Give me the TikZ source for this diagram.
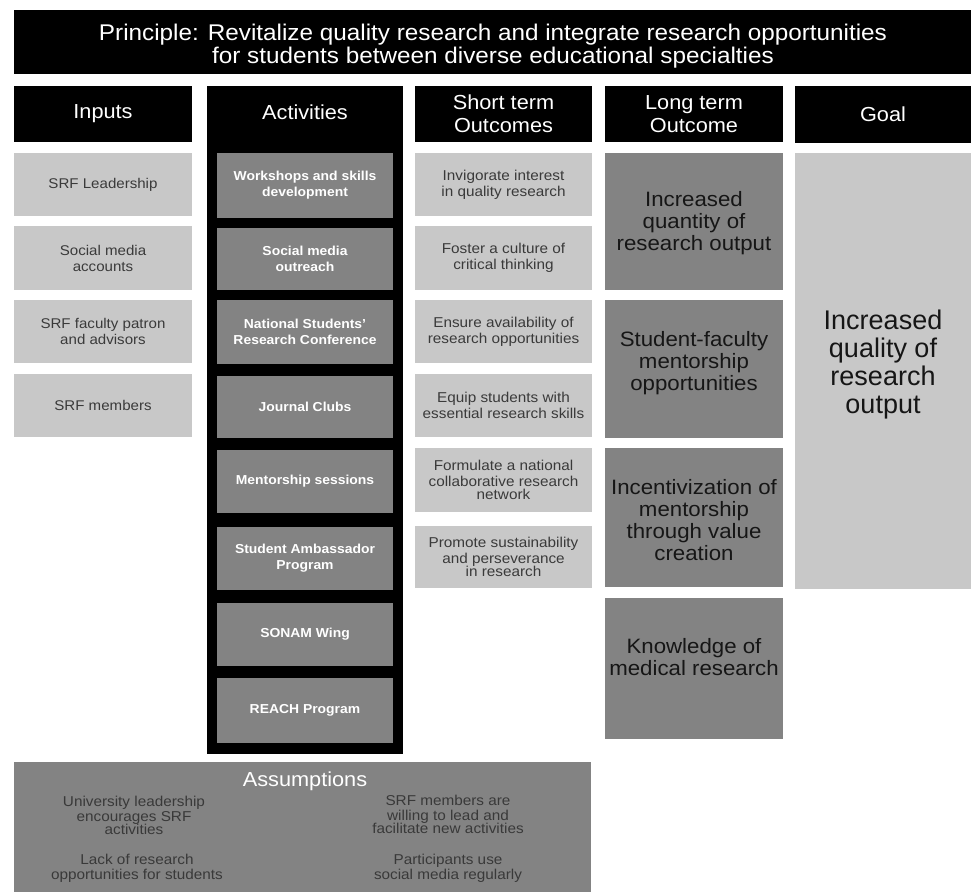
\documentclass[tikz,border=0pt]{standalone}
\usepackage{fontspec}
\setmainfont{Liberation Sans}[FakeStretch=1.07]
\newfontfamily\plainsans{Liberation Sans}
\definecolor{lightcell}{HTML}{C8C8C8}
\definecolor{darkcell}{HTML}{838383}
\definecolor{softink}{HTML}{3A3A3A}
\definecolor{deepink}{HTML}{161616}
% filled rectangle given by its corners (x1,y1)-(x2,y2)
\newcommand\cellbox[6]{%
  \node[cellshape,#2,minimum width={(#5-#3)*1pt},minimum height={(#6-#4)*1pt}]
    (#1) at ({(#3+#5)/2},{(#4+#6)/2}) {};}
\begin{document}
\begin{tikzpicture}[x=1pt,y=-1pt,
  cellshape/.style={rectangle,inner sep=0pt,outer sep=0pt,draw=none},
  blackbar/.style={fill=black},
  lightbox/.style={fill=lightcell},
  darkbox/.style={fill=darkcell},
  titletxt/.style={text=white,align=center,inner sep=0pt,font=\fontsize{22.7}{23}\selectfont},
  headtxt/.style={text=white,align=center,inner sep=0pt,font=\fontsize{20.3}{23}\selectfont},
  inputtxt/.style={text=softink,align=center,inner sep=0pt,font=\fontsize{14.1}{16}\selectfont},
  acttxt/.style={text=white,align=center,inner sep=0pt,font=\bfseries\fontsize{13}{16}\selectfont},
  shorttxt/.style={text=softink,align=center,inner sep=0pt,font=\fontsize{14.3}{16}\selectfont},
  longtxt/.style={text=deepink,align=center,inner sep=0pt,font=\fontsize{20.8}{22}\selectfont},
  goaltxt/.style={text=deepink,align=center,inner sep=0pt,font=\plainsans\fontsize{27}{28}\selectfont},
  asmtxt/.style={text=deepink!85,align=center,inner sep=0pt,font=\fontsize{14.3}{15}\selectfont},
]
\useasboundingbox[fill=white] (0,0) rectangle (971,892);

% principle banner
\cellbox{principle}{blackbar}{14}{10}{971}{74}
\node[titletxt] (principlet) at (493,46) {Principle: Revitalize quality research and integrate research opportunities\\for students between diverse educational specialties};

% column headers
\cellbox{hin}{blackbar}{14}{86}{192}{142}
\cellbox{hact}{blackbar}{207}{86}{403}{754}
\cellbox{hst}{blackbar}{415}{86}{592}{142}
\cellbox{hlt}{blackbar}{605}{86}{783}{142}
\cellbox{hgoal}{blackbar}{795}{86}{971}{143}
\node[headtxt] (hint) at (hin) {Inputs};
\node[headtxt] (hactt) at (305,112) {Activities};
\node[headtxt] (hstt) at (hst) {Short term\\Outcomes};
\node[headtxt] (hltt) at (hlt) {Long term\\Outcome};
\node[headtxt] (hgoalt) at (hgoal) {Goal};

% inputs
\cellbox{in1}{lightbox}{14}{153}{192}{216}
\cellbox{in2}{lightbox}{14}{226}{192}{290}
\cellbox{in3}{lightbox}{14}{300}{192}{363}
\cellbox{in4}{lightbox}{14}{374}{192}{437}
\node[inputtxt] (in1t) at (in1) {SRF Leadership};
\node[inputtxt] (in2t) at (in2) {Social media\\accounts};
\node[inputtxt] (in3t) at (in3) {SRF faculty patron\\and advisors};
\node[inputtxt] (in4t) at (in4) {SRF members};

% activities
\cellbox{ac1}{darkbox}{217}{153}{393}{218}
\cellbox{ac2}{darkbox}{217}{228}{393}{290}
\cellbox{ac3}{darkbox}{217}{300}{393}{364}
\cellbox{ac4}{darkbox}{217}{376}{393}{438}
\cellbox{ac5}{darkbox}{217}{450}{393}{513}
\cellbox{ac6}{darkbox}{217}{527}{393}{590}
\cellbox{ac7}{darkbox}{217}{603}{393}{666}
\cellbox{ac8}{darkbox}{217}{678}{393}{743}
\node[acttxt] (ac1t) at (ac1) {Workshops and skills\\development};
\node[acttxt] (ac2t) at (ac2) {Social media\\outreach};
\node[acttxt] (ac3t) at (ac3) {National Students'\\Research Conference};
\node[acttxt] (ac4t) at (ac4) {Journal Clubs};
\node[acttxt] (ac5t) at (ac5) {Mentorship sessions};
\node[acttxt] (ac6t) at (ac6) {Student Ambassador\\Program};
\node[acttxt] (ac7t) at (ac7) {SONAM Wing};
\node[acttxt] (ac8t) at (ac8) {REACH Program};

% short term outcomes
\cellbox{st1}{lightbox}{415}{153}{592}{216}
\cellbox{st2}{lightbox}{415}{226}{592}{290}
\cellbox{st3}{lightbox}{415}{300}{592}{363}
\cellbox{st4}{lightbox}{415}{374}{592}{437}
\cellbox{st5}{lightbox}{415}{448}{592}{512}
\cellbox{st6}{lightbox}{415}{526}{592}{588}
\node[shorttxt] (st1t) at (st1) {Invigorate interest\\in quality research};
\node[shorttxt] (st2t) at (st2) {Foster a culture of\\critical thinking};
\node[shorttxt] (st3t) at (st3) {Ensure availability of\\research opportunities};
\node[shorttxt] (st4t) at (st4) {Equip students with\\essential research skills};
\node[shorttxt] (st5t) at (st5) {Formulate a national\\collaborative research\\[-3pt]network};
\node[shorttxt] (st6t) at (st6) {Promote sustainability\\and perseverance\\[-3pt]in research};

% long term outcomes
\cellbox{lt1}{darkbox}{605}{153}{783}{290}
\cellbox{lt2}{darkbox}{605}{300}{783}{438}
\cellbox{lt3}{darkbox}{605}{448}{783}{587}
\cellbox{lt4}{darkbox}{605}{598}{783}{739}
\node[longtxt] (lt1t) at ([yshift=-1.5pt]lt1.center) {Increased\\quantity of\\research output};
\node[longtxt] (lt2t) at ([yshift=6pt]lt2.center) {Student-faculty\\mentorship\\opportunities};
\node[longtxt] (lt3t) at ([yshift=-3pt]lt3.center) {Incentivization of\\mentorship\\through value\\creation};
\node[longtxt] (lt4t) at ([yshift=11pt]lt4.center) {Knowledge of\\medical research};

% goal
\cellbox{goal}{lightbox}{795}{153}{971}{589}
\node[goaltxt] (goalt) at ([yshift=6pt]goal.center) {Increased\\quality of\\research\\output};

% assumptions
\cellbox{asm}{darkbox}{14}{762}{591}{892}
\node[headtxt] (asmt) at (305,781) {Assumptions};
\node[asmtxt] (asm1) at (134,815) {University leadership\\encourages SRF\\[-2pt]activities};
\node[asmtxt] (asm2) at (448,814) {SRF members are\\willing to lead and\\[-2pt]facilitate new activities};
\node[asmtxt] (asm3) at (137,868) {Lack of research\\opportunities for students};
\node[asmtxt] (asm4) at (448,868) {Participants use\\social media regularly};
\end{tikzpicture}
\end{document}
